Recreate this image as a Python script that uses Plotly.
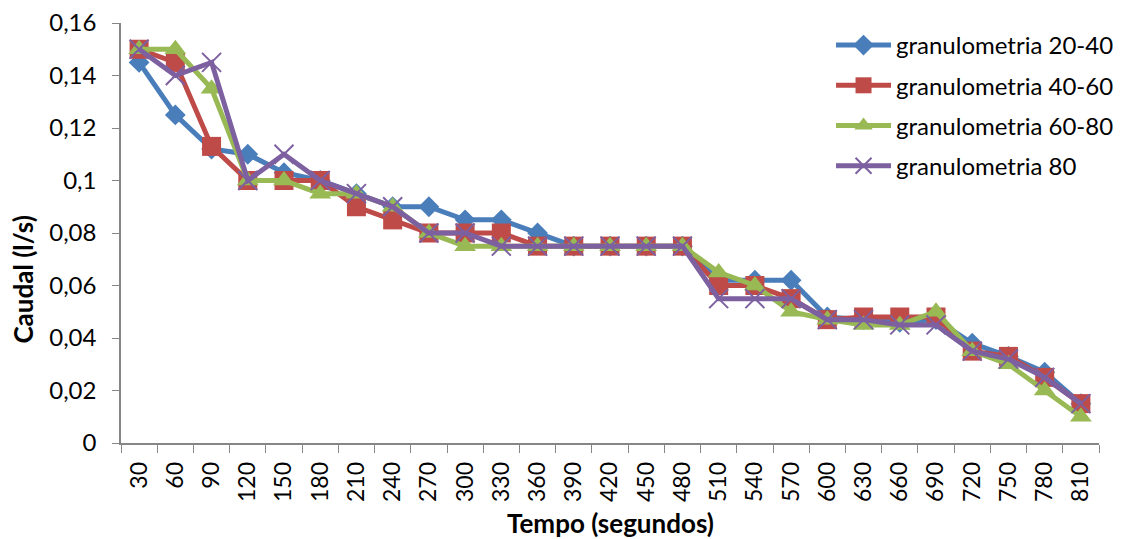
import plotly.graph_objects as go

tempo = [30, 60, 90, 120, 150, 180, 210, 240, 270, 300, 330, 360, 390, 420, 450,
         480, 510, 540, 570, 600, 630, 660, 690, 720, 750, 780, 810]
g20_40 = [0.145, 0.125, 0.112, 0.11, 0.103, 0.1, 0.095, 0.09, 0.09, 0.085, 0.085, 0.08,
          0.075, 0.075, 0.075, 0.075, 0.062, 0.062, 0.062, 0.048, 0.047, 0.046, 0.047,
          0.038, 0.033, 0.027, 0.015]
g40_60 = [0.15, 0.145, 0.113, 0.1, 0.1, 0.1, 0.09, 0.085, 0.08, 0.08, 0.08, 0.075,
          0.075, 0.075, 0.075, 0.075, 0.06, 0.06, 0.055, 0.047, 0.048, 0.048, 0.048,
          0.035, 0.033, 0.025, 0.015]
g60_80 = [0.15, 0.15, 0.135, 0.1, 0.1, 0.095, 0.095, 0.09, 0.08, 0.075, 0.075, 0.075,
          0.075, 0.075, 0.075, 0.075, 0.065, 0.06, 0.05, 0.047, 0.045, 0.045, 0.05,
          0.035, 0.03, 0.02, 0.01]
g80 = [0.15, 0.14, 0.145, 0.1, 0.11, 0.1, 0.095, 0.09, 0.08, 0.08, 0.075, 0.075,
       0.075, 0.075, 0.075, 0.075, 0.055, 0.055, 0.055, 0.047, 0.047, 0.045, 0.045,
       0.035, 0.032, 0.025, 0.015]

labels = [str(t) for t in tempo]

series = [
    ("granulometria 20-40", g20_40, "#4A7EBB", "diamond", 16),
    ("granulometria 40-60", g40_60, "#BE4B48", "square", 19),
    ("granulometria 60-80", g60_80, "#98B954", "triangle-up", 19),
    ("granulometria 80", g80, "#7D60A0", "x-thin", 19),
]

fig = go.Figure()
for i, (name, vals, color, sym, size) in enumerate(series):
    marker = dict(symbol=sym, size=size, color=color)
    if sym == "x-thin":
        marker["line"] = dict(color=color, width=2)
    fig.add_trace(go.Scatter(
        x=labels, y=vals, name=name, mode="lines+markers",
        legendgroup=f"g{i}",
        line=dict(color=color, width=5),
        marker=marker,
    ))

font_family = "Lato, 'Open Sans', sans-serif"
fig.update_layout(
    width=1131, height=539,
    margin=dict(l=121, r=26, t=23, b=96),
    paper_bgcolor="white", plot_bgcolor="white",
    separators=", ",
    font=dict(family=font_family, size=24, color="black"),
    showlegend=True,
    legend=dict(x=0.726, y=1.0, xanchor="left", yanchor="top",
                bgcolor="rgba(0,0,0,0)", font=dict(size=24),
                itemwidth=55, tracegroupgap=6, traceorder="grouped"),
    xaxis=dict(
        type="category", tickangle=-90, showgrid=False, range=[-0.5, 26.5],
        showline=True, linecolor="#868686", linewidth=1.5, automargin=False,
        ticks="outside", tickson="boundaries", ticklen=8, tickcolor="#868686",
        tickfont=dict(size=23), ticklabelstandoff=8,
    ),
    yaxis=dict(
        range=[0, 0.16], dtick=0.02, showgrid=False, zeroline=False,
        showline=True, linecolor="#868686", linewidth=1.5, automargin=False,
        ticks="outside", ticklen=7, tickcolor="#868686",
        tickfont=dict(size=24), ticklabelstandoff=11,
    ),
    annotations=[
        dict(text="<b>Tempo (segundos)</b>", xref="paper", yref="paper",
             x=0.5, y=-(523 - 443) / 420, xanchor="center", yanchor="middle",
             showarrow=False, font=dict(size=26)),
        dict(text="<b>Caudal (l/s)</b>", xref="paper", yref="paper",
             x=(22 - 121) / 984, y=(443 - 280) / 420, xanchor="center", yanchor="middle",
             textangle=-90, showarrow=False, font=dict(size=26)),
    ],
)

fig.write_html("out.html")
